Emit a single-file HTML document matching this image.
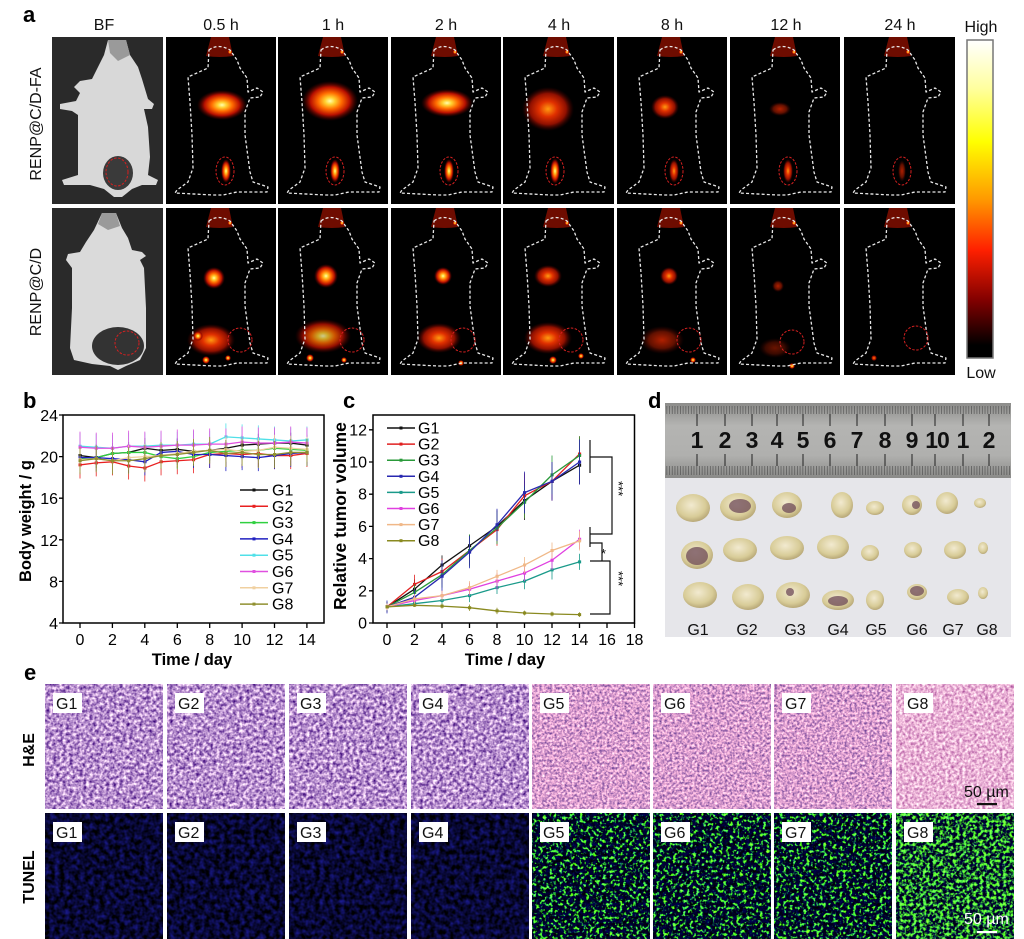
<!DOCTYPE html>
<html><head><meta charset="utf-8"><style>
html,body{margin:0;padding:0;background:#fff;}
svg{display:block;}
.mo{fill:none;stroke:#e8e8e8;stroke-width:1.3;stroke-dasharray:3 2.2;stroke-linejoin:round}
.rc{fill:none;stroke:#d42020;stroke-width:1;stroke-dasharray:2.5 1.5}
.hdr{font-size:16px;text-anchor:middle;fill:#111}
.pl{font-size:22px;font-weight:bold;fill:#000}
.tk{font-size:16px;fill:#000}
.ax{font-size:16.5px;font-weight:bold;fill:#000}
.lg{font-size:16px;fill:#000}
.gl{font-size:16px;fill:#111}
.ns{vector-effect:non-scaling-stroke}
</style></head><body>
<svg width="1024" height="939" viewBox="0 0 1024 939" font-family="'Liberation Sans', Arial, sans-serif">
<defs>
<radialGradient id="hA"><stop offset="0" stop-color="#ffffb0"/><stop offset="0.18" stop-color="#ffd030"/><stop offset="0.42" stop-color="#ff6a00"/><stop offset="0.7" stop-color="#b81000"/><stop offset="1" stop-color="#500000" stop-opacity="0"/></radialGradient>
<radialGradient id="hB"><stop offset="0" stop-color="#ff9a10"/><stop offset="0.35" stop-color="#e03000"/><stop offset="0.7" stop-color="#901000"/><stop offset="1" stop-color="#400000" stop-opacity="0"/></radialGradient>
<radialGradient id="hC"><stop offset="0" stop-color="#b02000"/><stop offset="0.6" stop-color="#601000"/><stop offset="1" stop-color="#300000" stop-opacity="0"/></radialGradient>
<linearGradient id="cb" x1="0" y1="0" x2="0" y2="1"><stop offset="0" stop-color="#ffffff"/><stop offset="0.15" stop-color="#ffffa0"/><stop offset="0.32" stop-color="#ffff00"/><stop offset="0.5" stop-color="#ff9a00"/><stop offset="0.66" stop-color="#ff2000"/><stop offset="0.82" stop-color="#800000"/><stop offset="0.96" stop-color="#000"/><stop offset="1" stop-color="#000"/></linearGradient>
<linearGradient id="ru" x1="0" y1="0" x2="0" y2="1"><stop offset="0" stop-color="#8c8c8a"/><stop offset="0.3" stop-color="#b4b4b2"/><stop offset="0.7" stop-color="#b0b0ae"/><stop offset="1" stop-color="#8a8a88"/></linearGradient>
<radialGradient id="tu" cx="0.45" cy="0.4" r="0.6"><stop offset="0" stop-color="#f2ead0"/><stop offset="0.7" stop-color="#d8cc98"/><stop offset="1" stop-color="#b8a878"/></radialGradient>
<pattern id="mm" width="2.72" height="10" patternUnits="userSpaceOnUse"><rect width="0.8" height="10" fill="#444"/></pattern>
<path id="mo" d="M43,13 Q52,6 64,13 L71,23 L74,31 L81,41 L82,55 L91,51 L97,55 L94,60 L84,61 L79,75 L79,98 L84,135 L87,145 L102,150 L101,155 L71,155 L57,158 L47,158 L9,156 L11,153 L22,145 L27,131 L26,98 L24,65 L22,40 L42,31 Z"/>
<g id="hd"><path d="M45,0 H63 L67,19 Q54,21 40,19 Z" fill="#6e0c00"/><circle cx="64" cy="15" r="2.5" fill="url(#hA)"/></g>
<filter id="fHeP" x="0" y="0" width="1" height="1" color-interpolation-filters="sRGB"><feTurbulence type="fractalNoise" baseFrequency="0.3" numOctaves="2" seed="2"/><feColorMatrix type="matrix" values="1.29 0 0 0 0.07  1.44 0 0 0 -0.16  0.87 0 0 0 0.37  0 0 0 0 1"/></filter>
<filter id="fHeK" x="0" y="0" width="1" height="1" color-interpolation-filters="sRGB"><feTurbulence type="fractalNoise" baseFrequency="0.4" numOctaves="2" seed="5"/><feColorMatrix type="matrix" values="1.275 0 0 0 0.2205  1.05 0 0 0 0.091  0.65 0 0 0 0.483  0 0 0 0 1"/></filter>
<filter id="fHe8" x="0" y="0" width="1" height="1" color-interpolation-filters="sRGB"><feTurbulence type="fractalNoise" baseFrequency="0.35" numOctaves="2" seed="9"/><feColorMatrix type="matrix" values="0.64 0 0 0 0.596  1.0 0 0 0 0.2  0.6 0 0 0 0.54  0 0 0 0 1"/></filter>
<filter id="fTuB" x="0" y="0" width="1" height="1" color-interpolation-filters="sRGB"><feTurbulence type="fractalNoise" baseFrequency="0.2" numOctaves="2" seed="3"/><feColorMatrix type="matrix" values="0.18 0 0 0 -0.06  0.18 0 0 0 -0.06  0.9 0 0 0 -0.25  0 0 0 0 1"/></filter>
<filter id="fTuG" x="0" y="0" width="1" height="1" color-interpolation-filters="sRGB"><feTurbulence type="fractalNoise" baseFrequency="0.3" numOctaves="2" seed="7"/><feColorMatrix type="matrix" values="0 2 0 0 -1.1  0.2 6 0 0 -3.2  0.6 0.2 0 0 -0.22  0 0 0 0 1"/></filter>
<filter id="fTu8" x="0" y="0" width="1" height="1" color-interpolation-filters="sRGB"><feTurbulence type="fractalNoise" baseFrequency="0.3" numOctaves="2" seed="11"/><feColorMatrix type="matrix" values="0 1.5 0 0 -0.65  0 4.5 0 0 -1.9  0.4 0.2 0 0 -0.1  0 0 0 0 1"/></filter>
</defs>

<rect width="1024" height="939" fill="#fff"/>

<!-- ================= Panel a ================= -->
<text class="pl" x="23" y="22">a</text>
<text class="hdr" x="104" y="30">BF</text>
<text class="hdr" x="221" y="30">0.5 h</text>
<text class="hdr" x="333" y="30">1 h</text>
<text class="hdr" x="446" y="30">2 h</text>
<text class="hdr" x="559" y="30">4 h</text>
<text class="hdr" x="672" y="30">8 h</text>
<text class="hdr" x="786" y="30">12 h</text>
<text class="hdr" x="900" y="30">24 h</text>
<text class="hdr" x="981" y="32">High</text>
<text class="hdr" x="981" y="378">Low</text>
<text class="hdr" transform="translate(41,124) rotate(-90)">RENP@C/D-FA</text>
<text class="hdr" transform="translate(41,292) rotate(-90)">RENP@C/D</text>

<!-- BF row1 -->
<g transform="translate(52,37)">
<rect width="111" height="167" fill="#2a2a2a"/>
<path d="M56,3 L74,3 L78,18 L86,30 L90,42 L96,62 L102,67 L100,72 L92,72 L96,90 L98,120 L96,138 L106,143 L104,148 L90,148 L80,152 L70,160 L62,160 L52,152 L38,148 L12,148 L10,143 L26,138 L26,110 L26,78 L20,74 L8,72 L8,67 L24,64 L28,56 L22,50 L28,44 L40,42 L46,30 L52,18 Z" fill="#d8d8d8"/>
<path d="M56,3 L74,3 L78,18 L66,24 L58,16 Z" fill="#9a9a9a"/>
<ellipse cx="66" cy="136" rx="15" ry="17" fill="#3a3a3a"/>
<ellipse cx="65" cy="135" rx="11" ry="14" class="rc"/>
</g>
<!-- BF row2 -->
<g transform="translate(52,208)">
<rect width="111" height="167" fill="#2a2a2a"/>
<path d="M50,5 L64,5 L70,20 L76,30 L80,42 L90,44 L94,48 L88,52 L92,60 L94,100 L94,140 L88,152 L74,158 L66,162 L58,158 L40,156 L22,152 L18,140 L20,100 L20,60 L14,52 L16,46 L28,44 L34,34 L42,22 Z" fill="#dadada"/>
<path d="M50,5 L64,5 L68,18 L56,22 L46,16 Z" fill="#9a9a9a"/>
<ellipse cx="66" cy="138" rx="26" ry="19" fill="#333"/>
<circle cx="75" cy="135" r="12" class="rc"/>
</g>

<!-- Row1 fluorescence -->
<g transform="translate(166,37)"><rect width="110" height="167" fill="#000"/><use href="#hd"/>
<ellipse cx="56" cy="68" rx="25" ry="15" fill="url(#hA)"/><ellipse cx="60" cy="134" rx="5" ry="12" fill="url(#hA)"/>
<use href="#mo" class="mo"/><ellipse cx="59" cy="134" rx="9" ry="14" class="rc"/></g>
<g transform="translate(278,37)"><rect width="110" height="167" fill="#000"/><use href="#hd"/>
<ellipse cx="52" cy="64" rx="28" ry="20" fill="url(#hA)"/><ellipse cx="57" cy="134" rx="5" ry="12" fill="url(#hA)"/>
<use href="#mo" class="mo"/><ellipse cx="57" cy="134" rx="9" ry="14" class="rc"/></g>
<g transform="translate(391,37)"><rect width="110" height="167" fill="#000"/><use href="#hd"/>
<ellipse cx="56" cy="66" rx="26" ry="14" fill="url(#hA)"/><ellipse cx="58" cy="134" rx="5" ry="12" fill="url(#hA)"/>
<use href="#mo" class="mo"/><ellipse cx="58" cy="134" rx="9" ry="14" class="rc"/></g>
<g transform="translate(503,37)"><rect width="111" height="167" fill="#000"/><use href="#hd"/>
<ellipse cx="45" cy="72" rx="26" ry="22" fill="url(#hB)"/><ellipse cx="52" cy="134" rx="5" ry="13" fill="url(#hA)"/>
<use href="#mo" class="mo"/><ellipse cx="52" cy="134" rx="9" ry="14" class="rc"/></g>
<g transform="translate(617,37)"><rect width="110" height="167" fill="#000"/><use href="#hd"/>
<ellipse cx="48" cy="70" rx="14" ry="12" fill="url(#hB)"/><ellipse cx="57" cy="134" rx="5" ry="12" fill="url(#hB)"/>
<use href="#mo" class="mo"/><ellipse cx="57" cy="134" rx="9" ry="14" class="rc"/></g>
<g transform="translate(730,37)"><rect width="110" height="167" fill="#000"/><use href="#hd"/>
<ellipse cx="50" cy="72" rx="11" ry="7" fill="url(#hC)"/><ellipse cx="58" cy="134" rx="5" ry="12" fill="url(#hB)"/>
<use href="#mo" class="mo"/><ellipse cx="58" cy="134" rx="9" ry="14" class="rc"/></g>
<g transform="translate(844,37)"><rect width="111" height="167" fill="#000"/><use href="#hd"/>
<ellipse cx="58" cy="134" rx="4" ry="11" fill="url(#hC)"/>
<use href="#mo" class="mo"/><ellipse cx="58" cy="134" rx="9" ry="14" class="rc"/></g>

<!-- Row2 fluorescence -->
<g transform="translate(166,208)"><rect width="110" height="167" fill="#000"/><use href="#hd"/>
<circle cx="48" cy="70" r="11" fill="url(#hA)"/>
<ellipse cx="45" cy="132" rx="24" ry="16" fill="url(#hB)"/><circle cx="32" cy="128" r="5" fill="url(#hA)"/><circle cx="40" cy="152" r="4" fill="url(#hA)"/><circle cx="62" cy="150" r="3" fill="url(#hA)"/>
<use href="#mo" class="mo"/><circle cx="74" cy="132" r="12" class="rc"/></g>
<g transform="translate(278,208)"><rect width="110" height="167" fill="#000"/><use href="#hd"/>
<circle cx="48" cy="68" r="12" fill="url(#hA)"/>
<ellipse cx="45" cy="128" rx="28" ry="17" fill="url(#hA)" opacity="0.8"/><circle cx="32" cy="150" r="4" fill="url(#hA)"/><circle cx="66" cy="152" r="3" fill="url(#hA)"/>
<use href="#mo" class="mo"/><circle cx="74" cy="132" r="12" class="rc"/></g>
<g transform="translate(391,208)"><rect width="110" height="167" fill="#000"/><use href="#hd"/>
<circle cx="52" cy="68" r="9" fill="url(#hA)"/>
<ellipse cx="48" cy="130" rx="22" ry="15" fill="url(#hB)"/><circle cx="70" cy="155" r="3" fill="url(#hA)"/>
<use href="#mo" class="mo"/><circle cx="72" cy="132" r="12" class="rc"/></g>
<g transform="translate(503,208)"><rect width="111" height="167" fill="#000"/><use href="#hd"/>
<ellipse cx="45" cy="68" rx="14" ry="11" fill="url(#hB)"/>
<ellipse cx="45" cy="130" rx="24" ry="16" fill="url(#hB)"/><circle cx="50" cy="152" r="4" fill="url(#hA)"/><circle cx="78" cy="148" r="3" fill="url(#hA)"/>
<use href="#mo" class="mo"/><circle cx="68" cy="132" r="12" class="rc"/></g>
<g transform="translate(617,208)"><rect width="110" height="167" fill="#000"/><use href="#hd"/>
<circle cx="52" cy="68" r="9" fill="url(#hB)"/>
<ellipse cx="45" cy="132" rx="22" ry="14" fill="url(#hC)"/><circle cx="76" cy="152" r="3" fill="url(#hA)"/>
<use href="#mo" class="mo"/><circle cx="72" cy="132" r="12" class="rc"/></g>
<g transform="translate(730,208)"><rect width="110" height="167" fill="#000"/><use href="#hd"/>
<circle cx="48" cy="78" r="6" fill="url(#hC)"/>
<ellipse cx="45" cy="140" rx="16" ry="10" fill="url(#hC)" opacity="0.6"/><circle cx="62" cy="158" r="3" fill="url(#hA)"/>
<use href="#mo" class="mo"/><circle cx="62" cy="134" r="12" class="rc"/></g>
<g transform="translate(844,208)"><rect width="111" height="167" fill="#000"/><use href="#hd"/>
<circle cx="30" cy="150" r="3" fill="url(#hB)"/>
<use href="#mo" class="mo"/><circle cx="72" cy="130" r="12" class="rc"/></g>

<!-- colorbar -->
<rect x="967" y="40" width="26" height="318" fill="url(#cb)" stroke="#777" stroke-width="1.5"/>

<!-- ================= Panel b ================= -->
<text class="pl" x="23" y="408">b</text>
<rect x="63" y="415" width="261" height="208" fill="none" stroke="#000" stroke-width="1.5"/>
<path d="M59,415H63M59,456.6H63M59,498.2H63M59,539.8H63M59,581.4H63M59,623H63M80,623V628M112.4,623V628M144.8,623V628M177.3,623V628M209.7,623V628M242.1,623V628M274.5,623V628M306.9,623V628" stroke="#000" stroke-width="1.3"/>
<g class="tk" text-anchor="end"><text x="58" y="421">24</text><text x="58" y="462.6">20</text><text x="58" y="504.2">16</text><text x="58" y="545.8">12</text><text x="58" y="587.4">8</text><text x="58" y="629">4</text></g>
<g class="tk" text-anchor="middle"><text x="80" y="645">0</text><text x="112.4" y="645">2</text><text x="144.8" y="645">4</text><text x="177.3" y="645">6</text><text x="209.7" y="645">8</text><text x="242.1" y="645">10</text><text x="274.5" y="645">12</text><text x="306.9" y="645">14</text></g>
<text class="ax" x="192" y="665" text-anchor="middle">Time / day</text>
<text class="ax" transform="translate(31,521) rotate(-90)" text-anchor="middle">Body weight / g</text>

<g transform="translate(80 623) scale(16.21 -10.4) translate(0 -4)" fill="none" stroke-linejoin="round">
<g stroke="#111"><path class="ns" stroke-width="0.8" d="M0,19.1V21.1M1,18.9V20.9M2,19.3V21.3M3,19.4V21.4M4,19.8V21.8M5,19.6V21.6M6,19.7V21.7M7,19.5V21.5M8,19.6V21.6M9,19.8V21.8M10,20.1V22.1M11,20.2V22.2M12,20.3V22.3M13,20.3V22.3M14,20.1V22.1"/><polyline class="ns" stroke-width="1.3" points="0,20.1 1,19.9 2,20.3 3,20.4 4,20.8 5,20.6 6,20.7 7,20.5 8,20.6 9,20.8 10,21.1 11,21.2 12,21.3 13,21.3 14,21.1"/><path class="ns" stroke-width="3" stroke-linecap="square" d="M0,20.1h.01M1,19.9h.01M2,20.3h.01M3,20.4h.01M4,20.8h.01M5,20.6h.01M6,20.7h.01M7,20.5h.01M8,20.6h.01M9,20.8h.01M10,21.1h.01M11,21.2h.01M12,21.3h.01M13,21.3h.01M14,21.1h.01"/></g>
<g stroke="#e82020"><path class="ns" stroke-width="0.8" d="M0,17.9V20.5M1,18.1V20.7M2,18.2V20.8M3,17.8V20.4M4,17.6V20.2M5,18.2V20.8M6,18.3V20.9M7,18.4V21M8,18.9V21.5M9,19V21.6M10,18.9V21.5M11,19V21.6M12,18.8V21.4M13,18.8V21.4M14,19V21.6"/><polyline class="ns" stroke-width="1.3" points="0,19.2 1,19.4 2,19.5 3,19.1 4,18.9 5,19.5 6,19.6 7,19.7 8,20.2 9,20.3 10,20.2 11,20.3 12,20.1 13,20.1 14,20.3"/><path class="ns" stroke-width="3" stroke-linecap="square" d="M0,19.2h.01M1,19.4h.01M2,19.5h.01M3,19.1h.01M4,18.9h.01M5,19.5h.01M6,19.6h.01M7,19.7h.01M8,20.2h.01M9,20.3h.01M10,20.2h.01M11,20.3h.01M12,20.1h.01M13,20.1h.01M14,20.3h.01"/></g>
<g stroke="#30d040"><path class="ns" stroke-width="0.8" d="M0,18.8V20.8M1,18.9V20.9M2,19.3V21.3M3,19.4V21.4M4,19.4V21.4M5,19V21M6,18.8V20.8M7,19V21M8,19.4V21.4M9,19.5V21.5M10,19.6V21.6M11,19.6V21.6M12,19.8V21.8M13,19.7V21.7M14,19.6V21.6"/><polyline class="ns" stroke-width="1.3" points="0,19.8 1,19.9 2,20.3 3,20.4 4,20.4 5,20 6,19.8 7,20 8,20.4 9,20.5 10,20.6 11,20.6 12,20.8 13,20.7 14,20.6"/><path class="ns" stroke-width="3" stroke-linecap="square" d="M0,19.8h.01M1,19.9h.01M2,20.3h.01M3,20.4h.01M4,20.4h.01M5,20h.01M6,19.8h.01M7,20h.01M8,20.4h.01M9,20.5h.01M10,20.6h.01M11,20.6h.01M12,20.8h.01M13,20.7h.01M14,20.6h.01"/></g>
<g stroke="#2020c0"><path class="ns" stroke-width="0.8" d="M0,18.6V21.2M1,18.6V21.2M2,18.5V21.1M3,18.4V21M4,18.2V20.8M5,19.1V21.7M6,19.2V21.8M7,18.9V21.5M8,18.9V21.5M9,18.6V21.6M10,18.7V21.3M11,18.6V21.2M12,18.8V21.4M13,19V21.6M14,19.1V21.7"/><polyline class="ns" stroke-width="1.3" points="0,19.9 1,19.9 2,19.8 3,19.7 4,19.5 5,20.4 6,20.5 7,20.2 8,20.2 9,20.1 10,20 11,19.9 12,20.1 13,20.3 14,20.4"/><path class="ns" stroke-width="3" stroke-linecap="square" d="M0,19.9h.01M1,19.9h.01M2,19.8h.01M3,19.7h.01M4,19.5h.01M5,20.4h.01M6,20.5h.01M7,20.2h.01M8,20.2h.01M9,20.1h.01M10,20h.01M11,19.9h.01M12,20.1h.01M13,20.3h.01M14,20.4h.01"/></g>
<g stroke="#50e0e8"><path class="ns" stroke-width="0.8" d="M0,19.7V22.3M1,19.6V22.2M2,19.5V22.1M3,19.7V22.3M4,19.7V22.3M5,19.8V22.4M6,19.8V22.4M7,19.9V22.5M8,19.9V22.5M9,20.6V23.2M10,20.5V23.1M11,20.4V23M12,20.3V22.9M13,20.2V22.8M14,20.3V22.9"/><polyline class="ns" stroke-width="1.3" points="0,21 1,20.9 2,20.8 3,21 4,21 5,21.1 6,21.1 7,21.2 8,21.2 9,21.9 10,21.8 11,21.7 12,21.6 13,21.5 14,21.6"/><path class="ns" stroke-width="3" stroke-linecap="square" d="M0,21h.01M1,20.9h.01M2,20.8h.01M3,21h.01M4,21h.01M5,21.1h.01M6,21.1h.01M7,21.2h.01M8,21.2h.01M9,21.9h.01M10,21.8h.01M11,21.7h.01M12,21.6h.01M13,21.5h.01M14,21.6h.01"/></g>
<g stroke="#e050e0"><path class="ns" stroke-width="0.8" d="M0,19.4V22.4M1,19.3V22.3M2,19.3V22.3M3,19.5V22.5M4,19.4V22.4M5,19.5V22.5M6,19.6V22.6M7,19.6V22.6M8,19.7V22.7M9,19.7V22.7M10,19.9V22.9M11,19.8V22.8M12,19.8V22.8M13,19.9V22.9M14,19.8V22.8"/><polyline class="ns" stroke-width="1.3" points="0,20.9 1,20.8 2,20.8 3,21 4,20.9 5,21 6,21.1 7,21.1 8,21.2 9,21.2 10,21.4 11,21.3 12,21.3 13,21.4 14,21.3"/><path class="ns" stroke-width="3" stroke-linecap="square" d="M0,20.9h.01M1,20.8h.01M2,20.8h.01M3,21h.01M4,20.9h.01M5,21h.01M6,21.1h.01M7,21.1h.01M8,21.2h.01M9,21.2h.01M10,21.4h.01M11,21.3h.01M12,21.3h.01M13,21.4h.01M14,21.3h.01"/></g>
<g stroke="#f0d0a0"><path class="ns" stroke-width="0.8" d="M0,18.5V20.9M1,18.6V21M2,18.4V20.8M3,18.7V21.1M4,18.8V21.2M5,18.9V21.3M6,19.1V21.5M7,19.3V21.7M8,19.4V21.8M9,19.5V21.9M10,19.3V21.7M11,19.4V21.8M12,19.7V22.1M13,19.6V22M14,19.5V21.9"/><polyline class="ns" stroke-width="1.3" points="0,19.7 1,19.8 2,19.6 3,19.9 4,20 5,20.1 6,20.3 7,20.5 8,20.6 9,20.7 10,20.5 11,20.6 12,20.9 13,20.8 14,20.7"/><path class="ns" stroke-width="3" stroke-linecap="square" d="M0,19.7h.01M1,19.8h.01M2,19.6h.01M3,19.9h.01M4,20h.01M5,20.1h.01M6,20.3h.01M7,20.5h.01M8,20.6h.01M9,20.7h.01M10,20.5h.01M11,20.6h.01M12,20.9h.01M13,20.8h.01M14,20.7h.01"/></g>
<g stroke="#909030"><path class="ns" stroke-width="0.8" d="M0,18.3V20.9M1,18.5V21.1M2,18.3V20.9M3,18.3V20.9M4,18.5V21.1M5,18.8V21.4M6,18.9V21.5M7,19.1V21.7M8,19.3V21.9M9,19V21.6M10,19.1V21.7M11,18.9V21.5M12,18.9V21.5M13,19.1V21.7M14,19.1V21.7"/><polyline class="ns" stroke-width="1.3" points="0,19.6 1,19.8 2,19.6 3,19.6 4,19.8 5,20.1 6,20.2 7,20.4 8,20.6 9,20.3 10,20.4 11,20.2 12,20.2 13,20.4 14,20.4"/><path class="ns" stroke-width="3" stroke-linecap="square" d="M0,19.6h.01M1,19.8h.01M2,19.6h.01M3,19.6h.01M4,19.8h.01M5,20.1h.01M6,20.2h.01M7,20.4h.01M8,20.6h.01M9,20.3h.01M10,20.4h.01M11,20.2h.01M12,20.2h.01M13,20.4h.01M14,20.4h.01"/></g>
</g>
<!-- legend b -->
<g stroke-width="1.5">
<line x1="240" x2="268" y1="490" y2="490" stroke="#111"/><rect x="252.5" y="488.5" width="3" height="3" fill="#111"/>
<line x1="240" x2="268" y1="506.3" y2="506.3" stroke="#e82020"/><rect x="252.5" y="504.8" width="3" height="3" fill="#e82020"/>
<line x1="240" x2="268" y1="522.6" y2="522.6" stroke="#30d040"/><rect x="252.5" y="521.1" width="3" height="3" fill="#30d040"/>
<line x1="240" x2="268" y1="538.9" y2="538.9" stroke="#2020c0"/><rect x="252.5" y="537.4" width="3" height="3" fill="#2020c0"/>
<line x1="240" x2="268" y1="555.2" y2="555.2" stroke="#50e0e8"/><rect x="252.5" y="553.7" width="3" height="3" fill="#50e0e8"/>
<line x1="240" x2="268" y1="571.5" y2="571.5" stroke="#e050e0"/><rect x="252.5" y="570" width="3" height="3" fill="#e050e0"/>
<line x1="240" x2="268" y1="587.8" y2="587.8" stroke="#f0d0a0"/><rect x="252.5" y="586.3" width="3" height="3" fill="#f0d0a0"/>
<line x1="240" x2="268" y1="604.1" y2="604.1" stroke="#909030"/><rect x="252.5" y="602.6" width="3" height="3" fill="#909030"/>
</g>
<g class="lg"><text x="272" y="495.5">G1</text><text x="272" y="511.8">G2</text><text x="272" y="528.1">G3</text><text x="272" y="544.4">G4</text><text x="272" y="560.7">G5</text><text x="272" y="577">G6</text><text x="272" y="593.3">G7</text><text x="272" y="609.6">G8</text></g>

<!-- ================= Panel c ================= -->
<text class="pl" x="343" y="408">c</text>
<rect x="373" y="415" width="261.5" height="208" fill="none" stroke="#000" stroke-width="1.5"/>
<path d="M369,623H373M369,590.8H373M369,558.6H373M369,526.4H373M369,494.2H373M369,462H373M369,429.8H373M387,623V628M414.5,623V628M442,623V628M469.5,623V628M497,623V628M524.5,623V628M552,623V628M579.5,623V628M607,623V628M634.5,623V628" stroke="#000" stroke-width="1.3"/>
<g class="tk" text-anchor="end"><text x="367" y="628.5">0</text><text x="367" y="596.3">2</text><text x="367" y="564.1">4</text><text x="367" y="531.9">6</text><text x="367" y="499.7">8</text><text x="367" y="467.5">10</text><text x="367" y="435.3">12</text></g>
<g class="tk" text-anchor="middle"><text x="387" y="645">0</text><text x="414.5" y="645">2</text><text x="442" y="645">4</text><text x="469.5" y="645">6</text><text x="497" y="645">8</text><text x="524.5" y="645">10</text><text x="552" y="645">12</text><text x="579.5" y="645">14</text><text x="607" y="645">16</text><text x="634.5" y="645">18</text></g>
<text class="ax" x="505" y="665" text-anchor="middle">Time / day</text>
<text class="ax" style="font-size:17.5px" transform="translate(346,516) rotate(-90)" text-anchor="middle">Relative tumor volume</text>

<g transform="translate(387 623) scale(13.75 -16.1)" fill="none" stroke-linejoin="round">
<g stroke="#111"><path class="ns" stroke-width="0.8" d="M0,0.7V1.3M2,1.5V2.7M4,3V4.2M6,4.1V5.5M8,5V7M10,6.4V8.8M12,7.7V9.9M14,8.6V11"/><polyline class="ns" stroke-width="1.3" points="0,1 2,2.1 4,3.6 6,4.8 8,6 10,7.6 12,8.8 14,9.8"/><path class="ns" stroke-width="3" stroke-linecap="square" d="M0,1h.01M2,2.1h.01M4,3.6h.01M6,4.8h.01M8,6h.01M10,7.6h.01M12,8.8h.01M14,9.8h.01"/></g>
<g stroke="#e02020"><path class="ns" stroke-width="0.8" d="M0,0.7V1.3M2,1.8V3M4,2.4V4M6,3.6V5.4M8,4.8V6.8M10,6.5V9.3M12,7.6V10M14,9.4V11.6"/><polyline class="ns" stroke-width="1.3" points="0,1 2,2.4 4,3.2 6,4.5 8,5.8 10,7.9 12,8.8 14,10.5"/><path class="ns" stroke-width="3" stroke-linecap="square" d="M0,1h.01M2,2.4h.01M4,3.2h.01M6,4.5h.01M8,5.8h.01M10,7.9h.01M12,8.8h.01M14,10.5h.01"/></g>
<g stroke="#2a9a3a"><path class="ns" stroke-width="0.8" d="M0,0.7V1.3M2,1.4V2.4M4,2.2V3.8M6,3.5V5.5M8,4.9V6.9M10,6.5V8.5M12,8V10.4M14,9.2V11.6"/><polyline class="ns" stroke-width="1.3" points="0,1 2,1.9 4,3 6,4.5 8,5.9 10,7.5 12,9.2 14,10.4"/><path class="ns" stroke-width="3" stroke-linecap="square" d="M0,1h.01M2,1.9h.01M4,3h.01M6,4.5h.01M8,5.9h.01M10,7.5h.01M12,9.2h.01M14,10.4h.01"/></g>
<g stroke="#2828b0"><path class="ns" stroke-width="0.8" d="M0,0.6V1.4M2,1.1V2.1M4,1.9V3.9M6,3.4V5.4M8,5.1V7.1M10,6.8V9.4M12,7.6V10M14,8.6V11.4"/><polyline class="ns" stroke-width="1.3" points="0,1 2,1.6 4,2.9 6,4.4 8,6.1 10,8.1 12,8.8 14,10"/><path class="ns" stroke-width="3" stroke-linecap="square" d="M0,1h.01M2,1.6h.01M4,2.9h.01M6,4.4h.01M8,6.1h.01M10,8.1h.01M12,8.8h.01M14,10h.01"/></g>
<g stroke="#1a9a8a"><path class="ns" stroke-width="0.8" d="M0,0.8V1.2M2,1V1.4M4,1.1V1.7M6,1.3V2.1M8,1.8V2.6M10,2.1V3.1M12,2.7V3.9M14,3.3V4.3"/><polyline class="ns" stroke-width="1.3" points="0,1 2,1.2 4,1.4 6,1.7 8,2.2 10,2.6 12,3.3 14,3.8"/><path class="ns" stroke-width="3" stroke-linecap="square" d="M0,1h.01M2,1.2h.01M4,1.4h.01M6,1.7h.01M8,2.2h.01M10,2.6h.01M12,3.3h.01M14,3.8h.01"/></g>
<g stroke="#e040e0"><path class="ns" stroke-width="0.8" d="M0,0.8V1.2M2,1.1V1.7M4,1.4V2M6,1.7V2.5M8,2.1V3.1M10,2.6V3.6M12,3.3V4.5M14,4.6V5.8"/><polyline class="ns" stroke-width="1.3" points="0,1 2,1.4 4,1.7 6,2.1 8,2.6 10,3.1 12,3.9 14,5.2"/><path class="ns" stroke-width="3" stroke-linecap="square" d="M0,1h.01M2,1.4h.01M4,1.7h.01M6,2.1h.01M8,2.6h.01M10,3.1h.01M12,3.9h.01M14,5.2h.01"/></g>
<g stroke="#f0b888"><path class="ns" stroke-width="0.8" d="M0,0.8V1.2M2,1.2V1.8M4,1.4V2M6,1.8V2.6M8,2.5V3.3M10,3.1V4.1M12,4V5M14,4.5V5.7"/><polyline class="ns" stroke-width="1.3" points="0,1 2,1.5 4,1.7 6,2.2 8,2.9 10,3.6 12,4.5 14,5.1"/><path class="ns" stroke-width="3" stroke-linecap="square" d="M0,1h.01M2,1.5h.01M4,1.7h.01M6,2.2h.01M8,2.9h.01M10,3.6h.01M12,4.5h.01M14,5.1h.01"/></g>
<g stroke="#8a8a20"><path class="ns" stroke-width="0.8" d="M0,0.9V1.1M2,1V1.2M4,0.9V1.2M6,0.75V1.15M8,0.55V0.95M10,0.47V0.77M12,0.41V0.71M14,0.37V0.67"/><polyline class="ns" stroke-width="1.3" points="0,1 2,1.1 4,1.05 6,0.95 8,0.75 10,0.62 12,0.56 14,0.52"/><path class="ns" stroke-width="3" stroke-linecap="square" d="M0,1h.01M2,1.1h.01M4,1.05h.01M6,0.95h.01M8,0.75h.01M10,0.62h.01M12,0.56h.01M14,0.52h.01"/></g>
</g>
<!-- legend c -->
<g stroke-width="1.5">
<line x1="387" x2="415" y1="428" y2="428" stroke="#111"/><rect x="399.5" y="426.5" width="3" height="3" fill="#111"/>
<line x1="387" x2="415" y1="444.1" y2="444.1" stroke="#e02020"/><rect x="399.5" y="442.6" width="3" height="3" fill="#e02020"/>
<line x1="387" x2="415" y1="460.2" y2="460.2" stroke="#2a9a3a"/><rect x="399.5" y="458.7" width="3" height="3" fill="#2a9a3a"/>
<line x1="387" x2="415" y1="476.3" y2="476.3" stroke="#2828b0"/><rect x="399.5" y="474.8" width="3" height="3" fill="#2828b0"/>
<line x1="387" x2="415" y1="492.4" y2="492.4" stroke="#1a9a8a"/><rect x="399.5" y="490.9" width="3" height="3" fill="#1a9a8a"/>
<line x1="387" x2="415" y1="508.5" y2="508.5" stroke="#e040e0"/><rect x="399.5" y="507" width="3" height="3" fill="#e040e0"/>
<line x1="387" x2="415" y1="524.6" y2="524.6" stroke="#f0b888"/><rect x="399.5" y="523.1" width="3" height="3" fill="#f0b888"/>
<line x1="387" x2="415" y1="540.7" y2="540.7" stroke="#8a8a20"/><rect x="399.5" y="539.2" width="3" height="3" fill="#8a8a20"/>
</g>
<g class="lg"><text x="418" y="433.5">G1</text><text x="418" y="449.6">G2</text><text x="418" y="465.7">G3</text><text x="418" y="481.8">G4</text><text x="418" y="497.9">G5</text><text x="418" y="514">G6</text><text x="418" y="530.1">G7</text><text x="418" y="546.2">G8</text></g>
<!-- significance brackets -->
<path d="M590,440V473M590,457H612V534H590M590,527V547M590,543H602V561H590M590,561H610V614H590" fill="none" stroke="#111" stroke-width="1.2"/>
<g font-size="13" fill="#111"><text transform="translate(614,481) rotate(90)">***</text><text x="601" y="558">*</text><text transform="translate(614,571) rotate(90)">***</text></g>

<!-- ================= Panel d ================= -->
<text class="pl" x="648" y="408">d</text>
<rect x="665" y="403" width="346" height="234" fill="#e6e6ea"/>
<rect x="665" y="403" width="346" height="75" fill="url(#ru)"/>
<rect x="665" y="406" width="346" height="8" fill="url(#mm)" opacity="0.7"/>
<rect x="665" y="466" width="346" height="9" fill="url(#mm)" opacity="0.7"/>
<path d="M697,414V426M725,414V426M752,414V426M777,414V426M803,414V426M830,414V426M857,414V426M885,414V426M912,414V426M935,414V426M963,414V426M989,414V426M697,454V466M725,454V466M752,454V466M777,454V466M803,454V466M830,454V466M857,454V466M885,454V466M912,454V466M935,454V466M963,454V466M989,454V466" stroke="#222" stroke-width="1"/>
<g font-size="23" font-weight="bold" fill="#111" text-anchor="middle"><text x="697" y="448">1</text><text x="725" y="448">2</text><text x="752" y="448">3</text><text x="777" y="448">4</text><text x="803" y="448">5</text><text x="830" y="448">6</text><text x="857" y="448">7</text><text x="885" y="448">8</text><text x="912" y="448">9</text><text x="937" y="448" letter-spacing="-1">10</text><text x="963" y="448">1</text><text x="989" y="448">2</text></g>
<g fill="url(#tu)">
<ellipse cx="693" cy="508" rx="17" ry="14"/><ellipse cx="738" cy="507" rx="18" ry="14"/><ellipse cx="787" cy="505" rx="15" ry="13"/><ellipse cx="842" cy="505" rx="11" ry="13"/><ellipse cx="875" cy="508" rx="9" ry="7"/><ellipse cx="912" cy="505" rx="10" ry="10"/><ellipse cx="947" cy="503" rx="11" ry="11"/><ellipse cx="980" cy="503" rx="6" ry="5"/>
<ellipse cx="697" cy="555" rx="16" ry="14"/><ellipse cx="740" cy="550" rx="17" ry="12"/><ellipse cx="787" cy="548" rx="17" ry="12"/><ellipse cx="833" cy="547" rx="16" ry="12"/><ellipse cx="870" cy="553" rx="9" ry="8"/><ellipse cx="913" cy="550" rx="9" ry="8"/><ellipse cx="955" cy="550" rx="11" ry="9"/><ellipse cx="983" cy="548" rx="5" ry="6"/>
<ellipse cx="700" cy="595" rx="17" ry="13"/><ellipse cx="748" cy="597" rx="16" ry="13"/><ellipse cx="793" cy="595" rx="17" ry="13"/><ellipse cx="838" cy="600" rx="16" ry="10"/><ellipse cx="875" cy="600" rx="9" ry="10"/><ellipse cx="917" cy="592" rx="10" ry="8"/><ellipse cx="958" cy="597" rx="11" ry="8"/><ellipse cx="983" cy="593" rx="5" ry="6"/>
</g>
<g fill="#6e4a58" opacity="0.75">
<ellipse cx="740" cy="506" rx="11" ry="7"/><ellipse cx="789" cy="508" rx="7" ry="5"/><ellipse cx="697" cy="556" rx="11" ry="9"/><ellipse cx="916" cy="505" rx="4" ry="4"/><ellipse cx="838" cy="601" rx="10" ry="5"/><ellipse cx="917" cy="591" rx="7" ry="5"/><ellipse cx="790" cy="592" rx="4" ry="4"/>
</g>
<g class="gl" text-anchor="middle"><text x="698" y="635">G1</text><text x="747" y="635">G2</text><text x="795" y="635">G3</text><text x="838" y="635">G4</text><text x="876" y="635">G5</text><text x="917" y="635">G6</text><text x="953" y="635">G7</text><text x="987" y="635">G8</text></g>

<!-- ================= Panel e ================= -->
<text class="pl" x="24" y="680">e</text>
<text class="ax" style="font-size:16px" transform="translate(34,750) rotate(-90)" text-anchor="middle">H&amp;E</text>
<text class="ax" style="font-size:16px" transform="translate(34,877) rotate(-90)" text-anchor="middle">TUNEL</text>
<rect x="45" y="684" width="118" height="125" filter="url(#fHeP)"/>
<rect x="167" y="684" width="118" height="125" filter="url(#fHeP)"/>
<rect x="289" y="684" width="118" height="125" filter="url(#fHeP)"/>
<rect x="411" y="684" width="118" height="125" filter="url(#fHeP)"/>
<rect x="532" y="684" width="118" height="125" filter="url(#fHeK)"/>
<rect x="653" y="684" width="118" height="125" filter="url(#fHeK)"/>
<rect x="774" y="684" width="118" height="125" filter="url(#fHeK)"/>
<rect x="896" y="684" width="118" height="125" filter="url(#fHe8)"/>
<rect x="45" y="813" width="118" height="126" filter="url(#fTuB)"/>
<rect x="167" y="813" width="118" height="126" filter="url(#fTuB)"/>
<rect x="289" y="813" width="118" height="126" filter="url(#fTuB)"/>
<rect x="411" y="813" width="118" height="126" filter="url(#fTuB)"/>
<rect x="532" y="813" width="118" height="126" filter="url(#fTuG)"/>
<rect x="653" y="813" width="118" height="126" filter="url(#fTuG)"/>
<rect x="774" y="813" width="118" height="126" filter="url(#fTuG)"/>
<rect x="896" y="813" width="118" height="126" filter="url(#fTu8)"/>
<g fill="#fff">
<rect x="53" y="693" width="29" height="20"/><rect x="175" y="693" width="29" height="20"/><rect x="297" y="693" width="29" height="20"/><rect x="419" y="693" width="29" height="20"/><rect x="540" y="693" width="29" height="20"/><rect x="661" y="693" width="29" height="20"/><rect x="782" y="693" width="29" height="20"/><rect x="904" y="693" width="29" height="20"/>
<rect x="53" y="822" width="29" height="20"/><rect x="175" y="822" width="29" height="20"/><rect x="297" y="822" width="29" height="20"/><rect x="419" y="822" width="29" height="20"/><rect x="540" y="822" width="29" height="20"/><rect x="661" y="822" width="29" height="20"/><rect x="782" y="822" width="29" height="20"/><rect x="904" y="822" width="29" height="20"/>
</g>
<g class="gl"><text x="56" y="709">G1</text><text x="178" y="709">G2</text><text x="300" y="709">G3</text><text x="422" y="709">G4</text><text x="543" y="709">G5</text><text x="664" y="709">G6</text><text x="785" y="709">G7</text><text x="907" y="709">G8</text>
<text x="56" y="838">G1</text><text x="178" y="838">G2</text><text x="300" y="838">G3</text><text x="422" y="838">G4</text><text x="543" y="838">G5</text><text x="664" y="838">G6</text><text x="785" y="838">G7</text><text x="907" y="838">G8</text></g>
<text x="964" y="797" font-size="16" fill="#111">50 µm</text>
<rect x="977" y="803" width="20" height="2.2" fill="#111"/>
<text x="964" y="924" font-size="16" fill="#fff">50 µm</text>
<rect x="977" y="931" width="20" height="2.2" fill="#fff"/>
</svg>
</body></html>
